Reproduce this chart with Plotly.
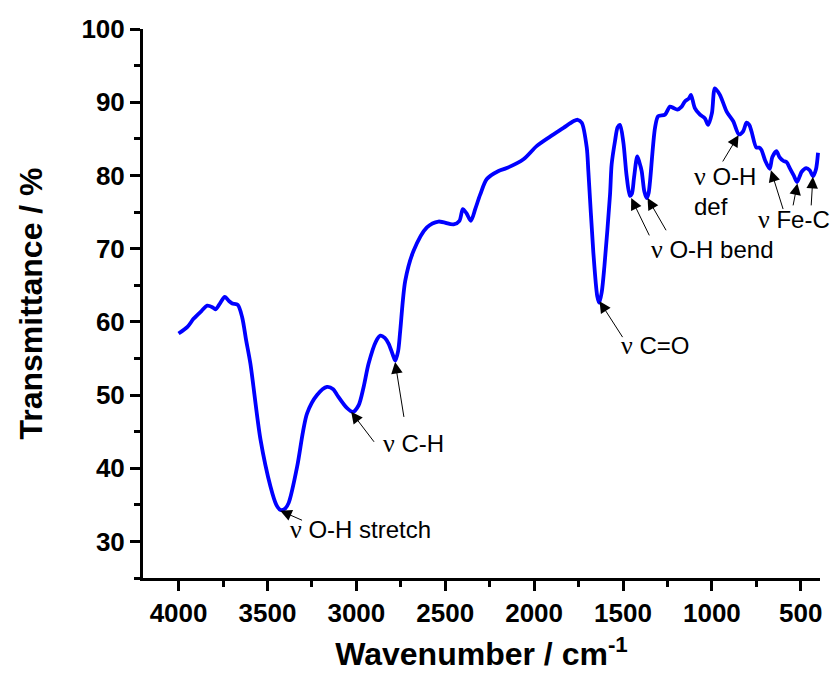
import plotly.graph_objects as go

wavenumber = [4000, 3950, 3916, 3870, 3839, 3810, 3792, 3765, 3740, 3715, 3698, 3667, 3642, 3620,
              3596, 3539, 3483, 3450, 3427, 3400, 3380, 3333, 3300, 3277, 3221, 3165, 3130, 3108,
              3052, 3019, 2987, 2960, 2931, 2890, 2865, 2840, 2818, 2795, 2781, 2765, 2753, 2725,
              2678, 2603, 2538, 2453, 2420, 2401, 2380, 2356, 2330, 2303, 2266, 2200, 2154, 2060,
              1986, 1910, 1835, 1779, 1755, 1732, 1704, 1695, 1667, 1645, 1634, 1620, 1605, 1573,
              1564, 1545, 1530, 1517, 1498, 1480, 1461, 1450, 1438, 1420, 1408, 1395, 1380, 1366,
              1356, 1348, 1320, 1302, 1264, 1236, 1215, 1195, 1170, 1152, 1130, 1118, 1096, 1067,
              1040, 1021, 1000, 983, 955, 935, 917, 880, 848, 825, 805, 790, 777, 750, 735, 722,
              700, 675, 660, 637, 620, 599, 580, 562, 540, 521, 495, 469, 450, 431, 415, 403]
transmittance = [58.4, 59.3, 60.4, 61.5, 62.2, 62.0, 61.7, 62.6, 63.4, 62.8, 62.5, 62.3, 60.6, 57.5,
                 54.3, 43.9, 37.5, 35.0, 34.3, 34.5, 35.3, 40.2, 45.0, 47.5, 50.0, 51.1, 50.8, 50.0,
                 48.2, 47.7, 48.6, 51.0, 54.3, 57.3, 58.1, 57.8, 57.0, 55.5, 54.7, 56.0, 58.8, 65.6,
                 69.7, 72.9, 73.7, 73.3, 73.8, 75.4, 74.8, 73.8, 75.5, 77.4, 79.5, 80.6, 81.0, 82.2,
                 84.0, 85.3, 86.5, 87.4, 87.6, 87.2, 83.8, 80.6, 69.5, 63.5, 62.6, 64.0, 67.5, 77.4,
                 81.5, 84.7, 86.6, 86.9, 84.5, 80.0, 77.2, 77.5, 79.7, 82.6, 81.8, 80.6, 77.8, 76.9,
                 77.6, 79.2, 86.5, 88.1, 88.3, 89.4, 89.2, 89.0, 89.4, 90.1, 90.5, 91.0, 89.2, 88.3,
                 87.8, 86.9, 88.5, 91.9, 91.0, 89.8, 88.7, 87.4, 85.6, 86.0, 87.2, 86.9, 86.0, 83.8,
                 83.8, 83.5, 82.0, 80.9, 82.5, 83.3, 82.5, 82.0, 81.8, 81.0, 80.0, 79.1, 80.5, 81.0,
                 80.7, 79.9, 80.8, 83.1]

# annotation labels: (text, x, y) in data coords (left anchored)
labels = [
    ("ν O-H stretch", 3385, 31.6),
    ("ν C-H", 2862, 43.4),
    ("ν C=O", 1520, 56.7),
    ("ν O-H bend", 1352, 69.9),
    ("ν O-H", 1110, 79.9),
    ("def", 1110, 75.8),
    ("ν Fe-C", 752, 74.0),
]
# arrows: (tip_x, tip_y, tail_x, tail_y)
arrows = [
    (3428, 34.2, 3297, 32.8),
    (3029, 47.7, 2894, 43.4),
    (2782, 54.5, 2731, 46.8),
    (1632, 62.8, 1497, 57.7),
    (1454, 76.9, 1348, 71.6),
    (1362, 76.9, 1253, 72.3),
    (850, 85.5, 944, 81.7),
    (668, 80.7, 597, 75.2),
    (519, 78.9, 545, 75.7),
    (432, 79.8, 442, 75.7),
]

fig = go.Figure()
fig.add_trace(go.Scatter(x=wavenumber, y=transmittance, mode="lines",
                         line=dict(color="#0000FF", width=3.8, shape="spline", smoothing=0.8),
                         showlegend=False))

NU = '<span style="font-family:Liberation Serif;font-size:26px">ν</span>'
for txt, x, y in labels:
    t = txt.replace("ν", NU)
    fig.add_annotation(x=x, y=y, text=t, showarrow=False, xanchor="left", yanchor="middle",
                       font=dict(family="Liberation Sans, Arial", size=24, color="black"))
for tx, ty, ax, ay in arrows:
    fig.add_annotation(x=tx, y=ty, ax=ax, ay=ay, axref="x", ayref="y", text="",
                       showarrow=True, arrowhead=2, arrowsize=2.3, arrowwidth=1,
                       arrowcolor="black", standoff=0, startstandoff=0)

tickfont = dict(family="Liberation Sans, Arial", size=26, color="black", weight="bold")
titlefont = dict(family="Liberation Sans, Arial", size=32, color="black", weight="bold")

fig.update_xaxes(range=[4200, 392], tickmode="linear", tick0=500, dtick=500,
                 ticks="outside", ticklen=10, tickwidth=3, tickcolor="black",
                 minor=dict(ticks="outside", ticklen=6, tickwidth=3, tickcolor="black",
                            tick0=250, dtick=250),
                 showline=True, linewidth=3, linecolor="black", showgrid=False, zeroline=False,
                 tickfont=tickfont,
                 title=dict(text="Wavenumber / cm<sup>-1</sup>", font=titlefont, standoff=16))
fig.update_yaxes(range=[25, 100], tickmode="linear", tick0=0, dtick=10,
                 ticks="outside", ticklen=10, tickwidth=3, tickcolor="black",
                 minor=dict(ticks="outside", ticklen=6, tickwidth=3, tickcolor="black",
                            tick0=0, dtick=5),
                 showline=True, linewidth=3, linecolor="black", showgrid=False, zeroline=False,
                 tickfont=tickfont,
                 title=dict(text="Transmittance / %", font=titlefont, standoff=30))

fig.update_layout(width=833, height=683, margin=dict(l=143, r=13, t=29, b=105),
                  plot_bgcolor="white", paper_bgcolor="white")

fig.write_html("out.html")
